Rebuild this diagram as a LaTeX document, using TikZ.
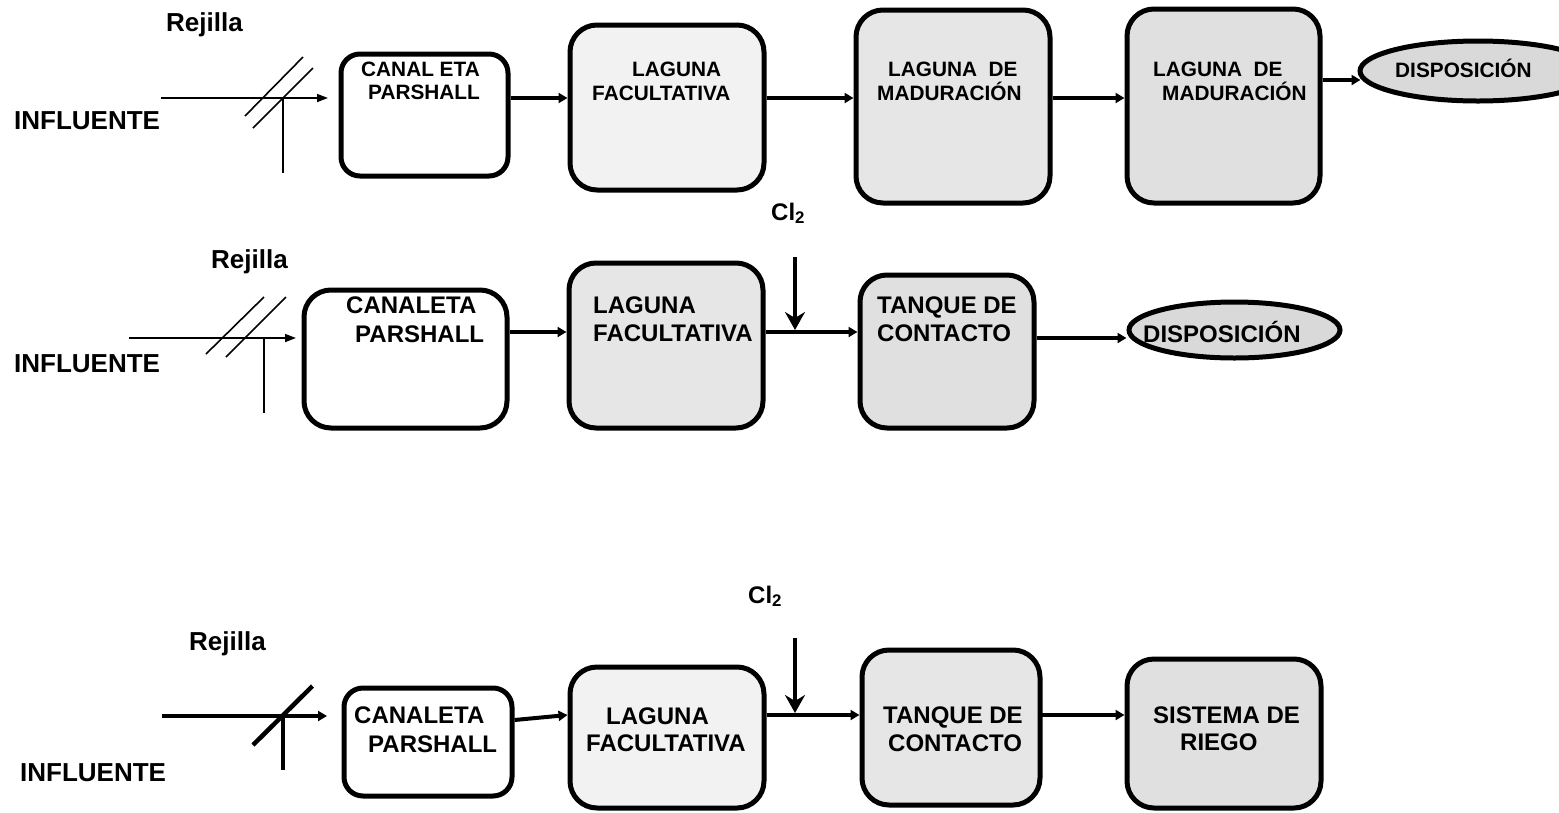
\documentclass[tikz,border=0pt]{standalone}
\usepackage{fontspec}
\setmainfont{Liberation Sans}
\usetikzlibrary{arrows.meta,shapes.geometric}
\definecolor{liteg}{HTML}{F2F2F2}
\definecolor{midg}{HTML}{E6E6E6}
\definecolor{darkg}{HTML}{E0E0E0}
\definecolor{ovalg}{HTML}{D9D9D9}
\begin{document}
\begin{tikzpicture}[x=1pt,y=-1pt,
  pbox/.style={draw, line width=5pt, rounded corners=27pt, inner sep=0pt},
  sbox/.style={pbox, rounded corners=19pt},
  oval/.style={draw, ellipse, line width=5pt, inner sep=0pt, fill=ovalg},
  big/.style={font=\fontsize{26}{30}\selectfont\bfseries, inner sep=0pt, anchor=base west},
  txa/.style={font=\fontsize{20.8}{24}\selectfont\bfseries, inner sep=0pt, anchor=base west},
  txb/.style={font=\fontsize{24}{28}\selectfont\bfseries, inner sep=0pt, anchor=base west},
  thinflow/.style={line width=1.6pt, -{Triangle[length=11pt,width=8pt]}},
  flow/.style={line width=4pt, -{Triangle[length=9pt,width=10pt]}},
  clflow/.style={line width=4.5pt, -{Stealth[length=18pt,width=20pt,inset=6pt]}},
  gridthin/.style={line width=1.6pt},
  gridthick/.style={line width=4.5pt},
]
\useasboundingbox (0,0) rectangle (1559,812);

% ---------------- Row 1 ----------------
\node[big] (rej1) at (166,31) {Rejilla};
\node[big] (inf1) at (14,129) {INFLUENTE};
\node[sbox, fill=white, minimum width=167pt, minimum height=122pt] (can1) at (424.5,115) {};
\node[pbox, fill=liteg, minimum width=194pt, minimum height=165pt] (fac1) at (667,107.5) {};
\node[pbox, fill=midg, minimum width=194pt, minimum height=193pt] (mad1) at (953,106.5) {};
\node[pbox, fill=darkg, minimum width=193pt, minimum height=194pt] (mad2) at (1223.5,106) {};
\node[oval, minimum width=236pt, minimum height=60pt] (disp1) at (1478,71) {};
\node[txa] (can1a) at (361,76) {CANAL ETA};
\node[txa] (can1b) at (368,99) {PARSHALL};
\node[txa] (fac1a) at (632,76) {LAGUNA};
\node[txa] (fac1b) at (592,100) {FACULTATIVA};
\node[txa] (mad1a) at (888,76) {LAGUNA~~DE};
\node[txa] (mad1b) at (877,100) {MADURACIÓN};
\node[txa] (mad2a) at (1153,76) {LAGUNA~~DE};
\node[txa] (mad2b) at (1162,100) {MADURACIÓN};
\node[txa] (disp1t) at (1395,77) {DISPOSICIÓN};
\coordinate (in1) at (161,98);
\coordinate (out1) at (328,98);
\coordinate (lvl1) at (0,98);
\coordinate (lvl1b) at (0,80);
\draw[thinflow] (in1) -- (out1);
\draw[gridthin] (245,116) -- (303,57);
\draw[gridthin] (253,128) -- (313,68);
\draw[gridthin] (283,98) -- (283,173);
\draw[flow] (can1.east |- lvl1) -- (fac1.west |- lvl1);
\draw[flow] (fac1.east |- lvl1) -- (mad1.west |- lvl1);
\draw[flow] (mad1.east |- lvl1) -- (mad2.west |- lvl1);
\draw[flow] (mad2.east |- lvl1b) -- ([xshift=3pt]disp1.west |- lvl1b);

% ---------------- Row 2 ----------------
\node[big] (rej2) at (211,268) {Rejilla};
\node[big] (inf2) at (14,372) {INFLUENTE};
\node[pbox, fill=white, minimum width=203pt, minimum height=138pt] (can2) at (405.5,359) {};
\node[pbox, fill=midg, minimum width=194pt, minimum height=165pt] (fac2) at (666,345.5) {};
\node[pbox, fill=darkg, minimum width=174pt, minimum height=153pt] (tan2) at (947,351.5) {};
\node[oval, minimum width=211pt, minimum height=56pt] (disp2) at (1234.5,330) {};
\node[txb] (can2a) at (346,313) {CANALETA};
\node[txb] (can2b) at (355,342) {PARSHALL};
\node[txb] (fac2a) at (593,313) {LAGUNA};
\node[txb] (fac2b) at (593,341) {FACULTATIVA};
\node[txb] (tan2a) at (877,313) {TANQUE DE};
\node[txb] (tan2b) at (877,341) {CONTACTO};
\node[txb] (disp2t) at (1143,342) {DISPOSICIÓN};
\node[txb] (cl2a) at (771,220) {Cl\textsubscript{2}};
\coordinate (in2) at (129,338);
\coordinate (out2) at (296,338);
\coordinate (lvl2) at (0,332);
\coordinate (lvl2b) at (0,338);
\coordinate (cltop2) at (795,257);
\coordinate (clbot2) at (795,330);
\draw[thinflow] (in2) -- (out2);
\draw[gridthin] (206,354) -- (264,297);
\draw[gridthin] (226,357) -- (286,297);
\draw[gridthin] (264,338) -- (264,413);
\draw[flow] (can2.east |- lvl2) -- (fac2.west |- lvl2);
\draw[flow] (fac2.east |- lvl2) -- (tan2.west |- lvl2);
\draw[clflow] (cltop2) -- (clbot2);
\draw[flow] (tan2.east |- lvl2b) -- (disp2.west |- lvl2b);

% ---------------- Row 3 ----------------
\node[big] (rej3) at (189,650) {Rejilla};
\node[big] (inf3) at (20,781) {INFLUENTE};
\node[sbox, fill=white, minimum width=168pt, minimum height=108pt] (can3) at (428,742) {};
\node[pbox, fill=liteg, minimum width=194pt, minimum height=141pt] (fac3) at (667,737.5) {};
\node[pbox, fill=midg, minimum width=178pt, minimum height=155pt] (tan3) at (951,727.5) {};
\node[pbox, fill=darkg, minimum width=194pt, minimum height=149pt] (sis3) at (1224,733.5) {};
\node[txb] (can3a) at (354,723) {CANALETA};
\node[txb] (can3b) at (368,752) {PARSHALL};
\node[txb] (fac3a) at (606,724) {LAGUNA};
\node[txb] (fac3b) at (586,751) {FACULTATIVA};
\node[txb] (tan3a) at (883,723) {TANQUE DE};
\node[txb] (tan3b) at (888,751) {CONTACTO};
\node[txb] (sis3a) at (1153,723) {SISTEMA DE};
\node[txb] (sis3b) at (1180,750) {RIEGO};
\node[txb] (cl3a) at (748,603) {Cl\textsubscript{2}};
\coordinate (in3) at (162,716);
\coordinate (out3) at (327,716);
\coordinate (lvl3) at (0,715);
\coordinate (lvl3a) at (0,720);
\coordinate (cltop3) at (795,638);
\coordinate (clbot3) at (795,713);
\draw[flow, line width=4.5pt] (in3) -- (out3);
\draw[gridthick] (253,745) -- (312.5,686);
\draw[gridthick] (283,716) -- (283,770);
\draw[flow] (can3.east |- lvl3a) -- (fac3.west |- lvl3);
\draw[flow] (fac3.east |- lvl3) -- (tan3.west |- lvl3);
\draw[clflow] (cltop3) -- (clbot3);
\draw[flow] ([xshift=-5pt]tan3.east |- lvl3) -- (sis3.west |- lvl3);
\end{tikzpicture}
\end{document}
